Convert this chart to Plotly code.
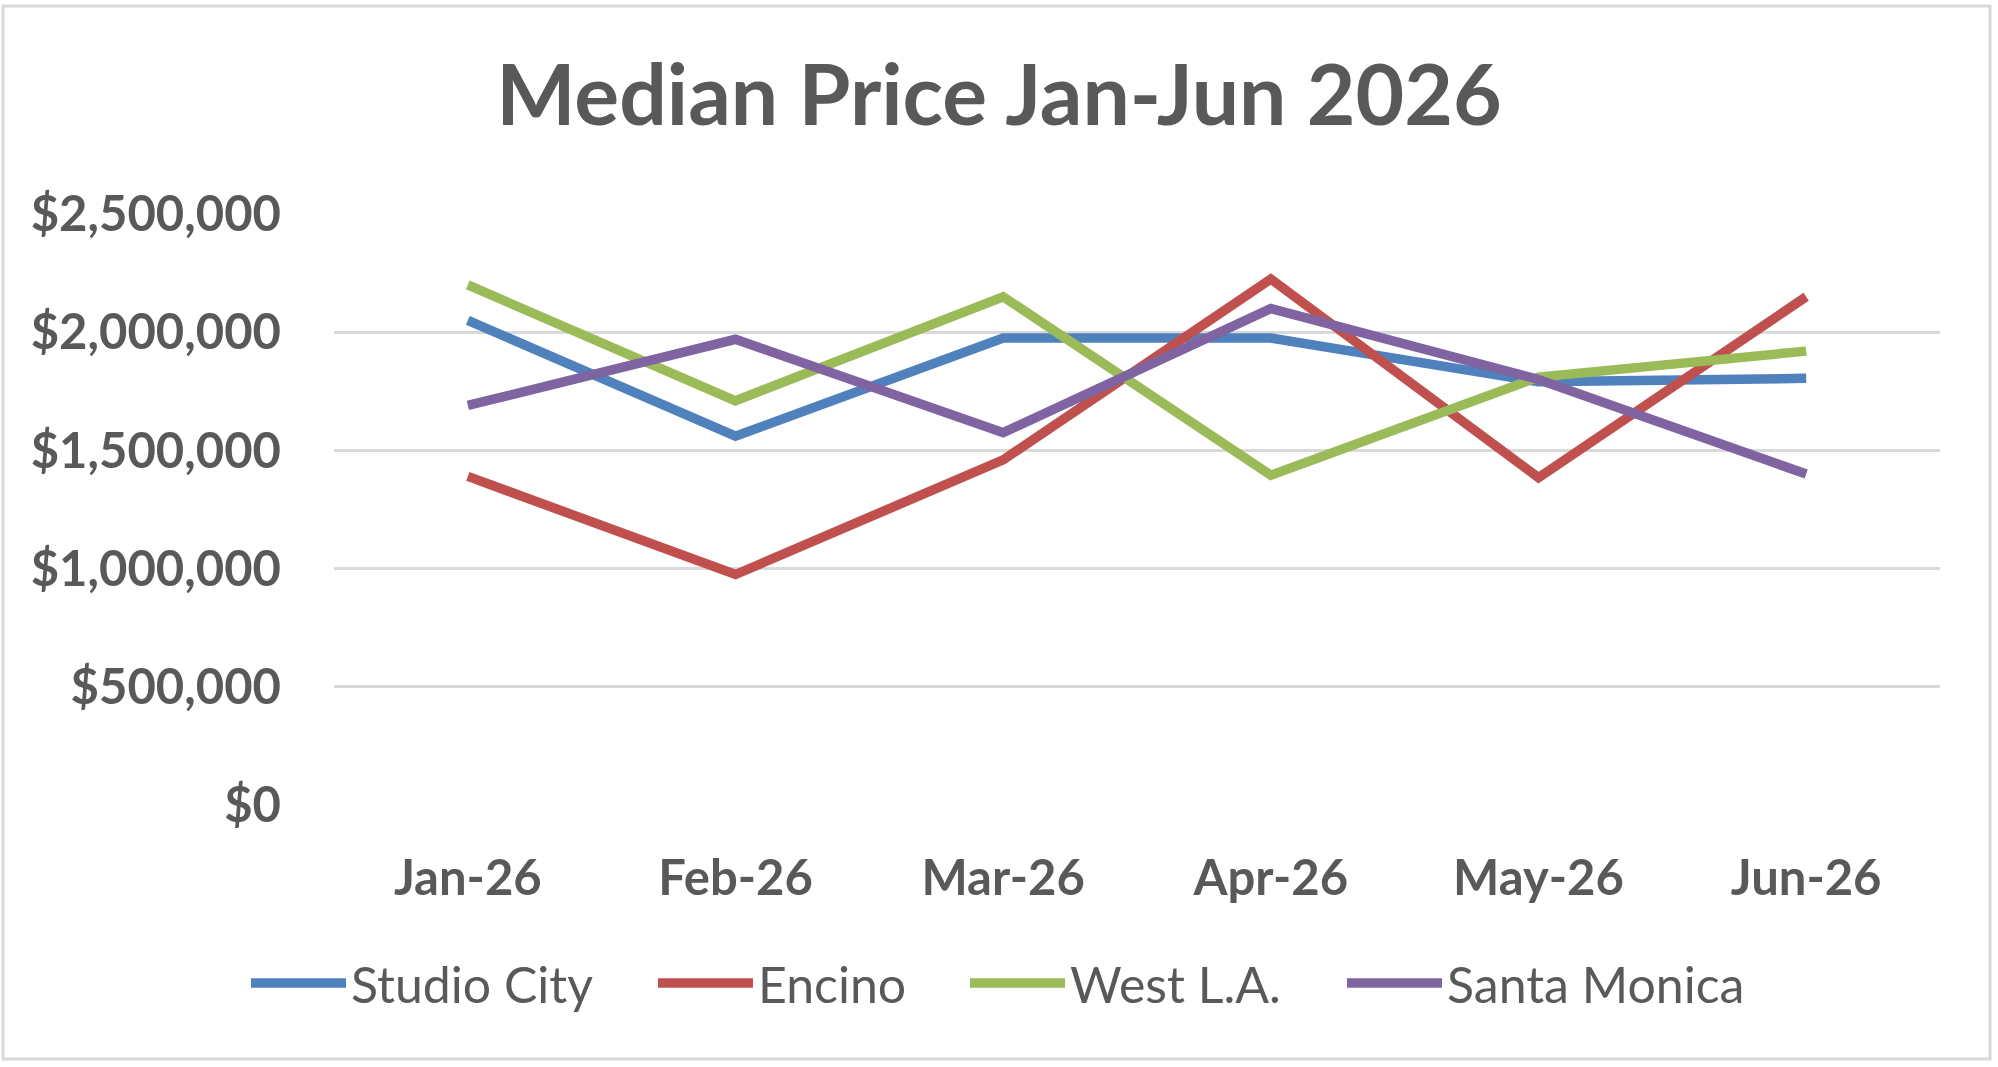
import plotly.graph_objects as go

months = ["Jan-26", "Feb-26", "Mar-26", "Apr-26", "May-26", "Jun-26"]
studio_city = [2050000, 1560000, 1975000, 1975000, 1790000, 1805000]
encino = [1390000, 975000, 1460000, 2225000, 1385000, 2150000]
west_la = [2200000, 1710000, 2150000, 1395000, 1810000, 1920000]
santa_monica = [1690000, 1970000, 1575000, 2100000, 1800000, 1400000]

series_names = ["Studio City", "Encino", "West L.A.", "Santa Monica"]
series_values = [studio_city, encino, west_la, santa_monica]
series_colors = ["#4F81BD", "#C0504D", "#9BBB59", "#8064A2"]

TEXT = "#595959"
GRID = "#D9D9D9"
FONT = "Lato"

W, H = 1998, 1067
L, R, T, B = 334, 58, 214, 262
pw, ph = W - L - R, H - T - B

# legend swatch start positions (px) for each series
legend_line_starts = [252, 659, 971, 1348]
legend_keys = ["legend", "legend2", "legend3", "legend4"]

fig = go.Figure()
for name, vals, col, lk in zip(series_names, series_values, series_colors, legend_keys):
    fig.add_trace(go.Scatter(x=months, y=vals, name=name, mode="lines",
                             line=dict(color=col, width=9.5), legend=lk))


def px_x(x):
    return (x - L) / pw


def px_y(y):
    return (H - B - y) / ph


fig.add_shape(type="rect", xref="paper", yref="paper",
              x0=px_x(3), x1=px_x(1990), y0=px_y(1059), y1=px_y(6),
              line=dict(color=GRID, width=3), fillcolor="rgba(0,0,0,0)", layer="below")

legend_common = dict(orientation="h", xref="container", yref="container",
                     xanchor="left", y=1 - 983 / H, yanchor="middle",
                     font=dict(family=FONT, size=50, color=TEXT),
                     itemwidth=95, bgcolor="rgba(0,0,0,0)", borderwidth=0)

layout_legends = {}
for lk, xs in zip(legend_keys, legend_line_starts):
    d = dict(legend_common)
    d["x"] = (xs - 6) / W
    layout_legends[lk] = d

fig.update_layout(
    width=W, height=H,
    margin=dict(l=L, r=R, t=T, b=B, pad=0),
    paper_bgcolor="white", plot_bgcolor="white",
    title=dict(text="<b>Median Price Jan-Jun 2026</b>", x=0.5, xref="container",
               xanchor="center", y=1 - 96 / H, yref="container", yanchor="middle",
               font=dict(family=FONT, size=84, color=TEXT)),
    xaxis=dict(type="category", range=[-0.5, 5.5], showgrid=False, zeroline=False,
               showline=False, ticks="", ticklabelstandoff=40,
               tickfont=dict(family=FONT, size=49, color=TEXT, weight="bold")),
    yaxis=dict(range=[0, 2500000], dtick=500000, tick0=0, tickformat="$,.0f",
               showgrid=True, gridcolor=GRID, gridwidth=2.5, zeroline=False,
               showline=False, ticks="", ticklabelstandoff=52,
               tickfont=dict(family=FONT, size=49, color=TEXT, weight="bold")),
    showlegend=True,
    **layout_legends,
)

fig.write_html("out.html")
